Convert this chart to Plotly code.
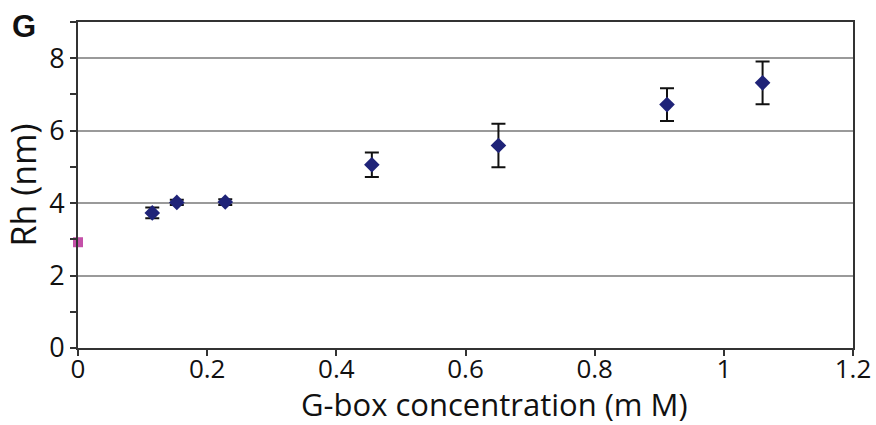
import plotly.graph_objects as go

# Data
conc_mM = [0.115, 0.153, 0.228, 0.455, 0.651, 0.912, 1.060]
rh_nm = [3.73, 4.02, 4.03, 5.06, 5.59, 6.72, 7.32]
rh_err = [0.15, 0.07, 0.08, 0.34, 0.60, 0.45, 0.59]

free_conc = [0.0]
free_rh = [2.92]

x_ticks = [0, 0.2, 0.4, 0.6, 0.8, 1, 1.2]
x_ticklabels = ["0", "0.2", "0.4", "0.6", "0.8", "1", "1.2"]
y_ticks = [0, 2, 4, 6, 8]

fig = go.Figure()

fig.add_trace(go.Scatter(
    x=conc_mM, y=rh_nm, mode="markers",
    marker=dict(symbol="diamond", size=12, color="#1f2378"),
    error_y=dict(type="data", array=rh_err, visible=True,
                 color="#111111", thickness=2, width=7),
    cliponaxis=False, showlegend=False,
))

fig.add_trace(go.Scatter(
    x=free_conc, y=free_rh, mode="markers",
    marker=dict(symbol="square", size=10, color="#c450a8"),
    cliponaxis=False, showlegend=False,
))

fig.update_layout(
    width=876, height=425,
    margin=dict(l=78, r=23, t=22, b=77, autoexpand=False),
    plot_bgcolor="white", paper_bgcolor="white",
    font=dict(family="Open Sans", color="#111111"),
)

fig.add_annotation(text="<b>G</b>", xref="paper", yref="paper",
                   x=-0.088, y=1.045, xanchor="left", yanchor="top",
                   showarrow=False, font=dict(family="Liberation Sans", size=31, color="#111111"))

fig.add_annotation(text="G-box concentration (m M)", xref="paper", yref="paper",
                   x=0.538, y=-0.171, xanchor="center", yanchor="middle",
                   showarrow=False, font=dict(family="Open Sans", size=31, color="#111111"))

fig.update_xaxes(
    range=[0, 1.2], tickvals=x_ticks, ticktext=x_ticklabels,
    ticks="outside", ticklen=6, tickwidth=1.5, tickcolor="#333333",
    ticklabelstandoff=-9,
    showline=True, linecolor="#333333", linewidth=2, mirror=True,
    showgrid=False, zeroline=False, automargin=False,
    tickfont=dict(size=26, family="Open Sans"),
)

fig.update_yaxes(
    range=[0, 9], tickvals=y_ticks,
    ticks="outside", ticklen=6, tickwidth=1.5, tickcolor="#333333",
    minor=dict(dtick=1, ticks="outside", ticklen=6, tickwidth=1.5, tickcolor="#333333", showgrid=False),
    showline=True, linecolor="#333333", linewidth=2, mirror=True,
    showgrid=True, gridcolor="#9a9a9a", gridwidth=1.5,
    zeroline=False, automargin=False,
    tickfont=dict(size=27, family="Open Sans"),
    title=dict(text="Rh (nm)", font=dict(size=34, family="Open Sans"), standoff=4),
)

fig.write_html("out.html")
